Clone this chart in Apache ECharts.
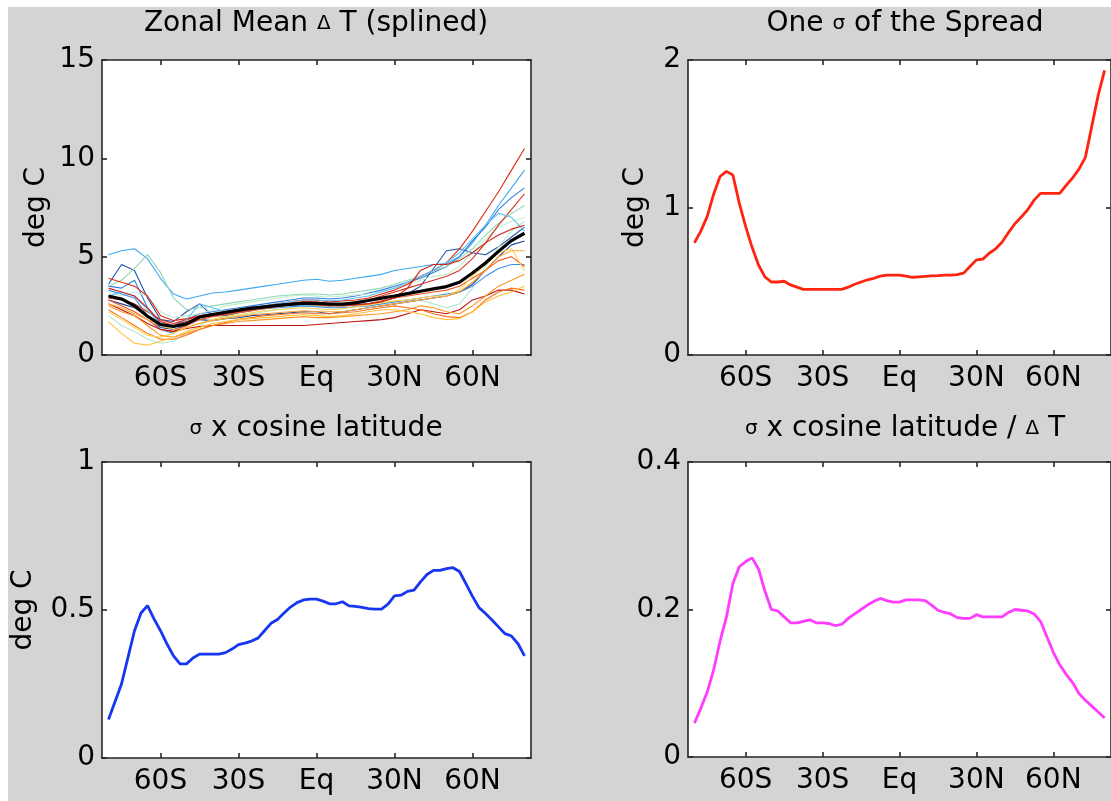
<!DOCTYPE html>
<html>
<head>
<meta charset="utf-8">
<script src="https://cdn.jsdelivr.net/npm/echarts@6/dist/echarts.min.js"></script>
<style>html,body{margin:0;padding:0;background:#fff}#c{width:1111px;height:801px}</style>
</head>
<body>
<div id="c"></div>
<script>
// ---------- DATA ----------
const xTickVals = [-60, -30, 0, 30, 60];
const xTickLabels = ['60S', '30S', 'Eq', '30N', '60N'];

// latitudes for the spaghetti panel (5 deg)
const lat5 = [-80,-75,-70,-65,-60,-55,-50,-45,-40,-35,-30,-25,-20,-15,-10,-5,0,5,10,15,20,25,30,35,40,45,50,55,60,65,70,75,80];
// latitudes for the single-curve panels (2.5 deg)
const lat25 = [-80,-77.5,-75,-72.5,-70,-67.5,-65,-62.5,-60,-57.5,-55,-52.5,-50,-47.5,-45,-42.5,-40,-37.5,-35,-32.5,-30,-27.5,-25,-22.5,-20,-17.5,-15,-12.5,-10,-7.5,-5,-2.5,0,2.5,5,7.5,10,12.5,15,17.5,20,22.5,25,27.5,30,32.5,35,37.5,40,42.5,45,47.5,50,52.5,55,57.5,60,62.5,65,67.5,70,72.5,75,77.5,80];

// Panel 1: individual model zonal mean dT (deg C)
const m01 = [5.1,5.3,5.4,4.9,3.9,3.1,2.85,3.0,3.15,3.2,3.3,3.4,3.5,3.6,3.7,3.8,3.85,3.75,3.8,3.9,4.0,4.1,4.3,4.4,4.5,4.6,4.65,5.0,5.7,6.6,7.6,8.5,9.4];
const m02 = [3.6,4.6,4.3,2.9,1.8,1.7,2.2,2.6,2.0,2.0,2.15,2.25,2.4,2.5,2.55,2.55,2.5,2.45,2.5,2.55,2.6,2.75,2.9,3.1,3.5,4.4,5.3,5.4,5.2,5.1,5.5,6.0,6.5];
const m03 = [3.5,3.4,3.8,2.4,1.6,1.5,1.8,2.1,2.2,2.3,2.4,2.5,2.6,2.7,2.8,2.9,2.9,2.85,2.9,3.0,3.15,3.3,3.5,3.7,3.9,4.2,4.5,5.0,5.8,6.5,7.4,8.0,8.5];
const m04 = [3.5,3.8,4.4,5.1,4.2,2.9,2.3,2.4,2.5,2.6,2.7,2.8,2.9,3.0,3.05,3.1,3.1,3.05,3.1,3.2,3.3,3.4,3.6,3.8,4.0,4.3,4.5,4.9,5.4,6.1,6.7,7.2,7.6];
const m05 = [3.2,3.0,3.2,3.0,2.2,1.9,2.0,2.1,2.3,2.5,2.6,2.7,2.8,2.9,3.0,3.05,3.0,2.95,3.0,3.05,3.1,3.2,3.4,3.6,3.8,4.0,4.1,4.5,5.2,5.9,6.5,6.8,7.0];
const m06 = [2.0,1.5,1.2,0.8,0.6,0.7,1.1,1.5,1.8,1.9,2.0,2.1,2.2,2.3,2.4,2.5,2.5,2.45,2.5,2.5,2.55,2.6,2.7,2.8,2.8,2.6,2.4,2.6,3.4,4.5,5.5,6.3,6.8];
const m07 = [3.3,3.1,2.9,2.0,1.3,1.1,1.6,1.9,2.0,2.1,2.2,2.3,2.35,2.4,2.45,2.5,2.45,2.4,2.4,2.45,2.5,2.6,2.7,2.8,2.9,3.0,3.1,3.2,3.5,4.0,4.4,4.6,4.6];
const m08 = [2.8,2.6,2.4,2.0,1.4,1.3,1.5,1.8,1.75,1.85,1.9,2.0,2.05,2.1,2.15,2.2,2.2,2.1,2.2,2.3,2.4,2.5,2.6,2.7,2.8,2.9,3.0,3.2,3.6,4.3,5.0,5.6,5.8];
const m09 = [3.9,3.7,3.5,3.0,2.0,1.75,1.85,2.0,2.1,2.2,2.3,2.4,2.5,2.6,2.7,2.8,2.8,2.7,2.75,2.8,2.9,3.1,3.3,3.6,4.0,4.3,4.7,5.4,6.3,7.3,8.3,9.4,10.5];
const m10 = [2.9,2.8,2.6,2.2,1.8,1.6,1.8,1.95,2.05,2.15,2.25,2.35,2.45,2.55,2.65,2.7,2.65,2.6,2.6,2.7,2.8,3.0,3.2,3.4,3.6,3.8,4.0,4.3,4.9,5.7,6.6,7.4,8.2];
const m11 = [2.8,2.5,2.2,1.8,1.3,1.2,1.5,1.8,1.95,2.05,2.15,2.25,2.35,2.45,2.55,2.6,2.55,2.5,2.5,2.55,2.6,2.75,2.9,3.0,3.1,3.2,3.3,3.5,3.9,4.3,4.8,5.0,4.5];
const m12 = [2.6,2.3,2.0,1.6,1.3,1.2,1.35,1.45,1.5,1.5,1.5,1.5,1.5,1.5,1.5,1.5,1.55,1.6,1.65,1.7,1.75,1.8,1.9,2.1,2.3,2.2,2.1,2.3,2.8,3.0,3.3,3.3,3.1];
const m13 = [2.5,2.2,2.0,1.5,1.0,0.9,1.1,1.3,1.5,1.6,1.7,1.75,1.8,1.85,1.9,1.95,1.9,1.9,1.95,2.0,2.05,2.1,2.2,2.3,2.5,2.4,2.2,2.1,2.5,3.0,3.5,3.8,4.1];
const m14 = [2.3,1.9,1.5,1.1,0.8,0.8,1.0,1.3,1.5,1.65,1.8,1.9,2.0,2.05,2.1,2.15,2.1,2.1,2.15,2.2,2.3,2.4,2.5,2.4,2.3,2.1,1.95,1.9,2.2,2.8,3.2,3.4,3.3];
const m15 = [1.7,1.1,0.6,0.5,0.7,0.9,1.2,1.4,1.6,1.7,1.8,1.85,1.9,1.95,2.0,2.05,2.0,1.95,2.0,2.1,2.2,2.3,2.3,2.2,2.1,1.9,1.8,1.85,2.2,2.7,3.0,3.2,3.5];
const m16 = [2.2,1.8,1.4,1.0,0.9,1.1,1.4,1.6,1.8,1.95,2.05,2.15,2.25,2.3,2.35,2.4,2.35,2.3,2.35,2.45,2.55,2.65,2.75,2.8,2.9,3.0,3.0,3.3,4.0,4.6,5.2,5.4,4.3];
const m17 = [2.6,2.4,2.1,1.8,1.5,1.3,1.4,1.6,1.75,1.85,1.95,2.05,2.1,2.15,2.2,2.25,2.2,2.2,2.2,2.3,2.4,2.5,2.6,2.7,2.8,2.9,3.0,3.2,3.7,4.3,5.0,5.3,5.3];
const m18 = [3.0,3.2,3.0,2.3,1.5,1.4,1.8,2.6,2.4,2.2,2.3,2.4,2.5,2.6,2.7,2.8,2.8,2.75,2.8,2.9,3.0,3.2,3.4,3.7,4.0,4.3,4.7,5.2,5.9,6.6,7.2,7.0,6.3];
const m19 = [3.4,3.2,3.0,2.4,1.7,1.5,1.7,1.9,2.0,2.1,2.2,2.3,2.45,2.55,2.6,2.7,2.7,2.6,2.55,2.55,2.6,2.7,2.9,3.4,4.3,4.6,4.6,4.8,5.2,5.7,6.1,6.4,6.6];
const ensMean = [3.0,2.85,2.5,1.97,1.55,1.45,1.58,1.93,2.06,2.17,2.28,2.38,2.45,2.52,2.57,2.63,2.62,2.59,2.59,2.65,2.77,2.89,3.0,3.12,3.24,3.36,3.48,3.7,4.17,4.68,5.27,5.82,6.19];

// Panel 2: one sigma of the spread
const sigma = [0.76,0.84,0.94,1.09,1.21,1.245,1.22,1.03,0.87,0.73,0.61,0.53,0.495,0.495,0.50,0.475,0.46,0.445,0.445,0.445,0.445,0.445,0.445,0.445,0.46,0.48,0.495,0.51,0.52,0.535,0.542,0.542,0.542,0.535,0.527,0.53,0.533,0.536,0.538,0.542,0.542,0.545,0.555,0.60,0.645,0.65,0.69,0.72,0.765,0.83,0.89,0.935,0.985,1.05,1.096,1.096,1.096,1.096,1.15,1.20,1.26,1.34,1.55,1.76,1.93];
// Panel 3: sigma x cosine latitude
const sigmaCos = [0.13,0.19,0.25,0.34,0.43,0.49,0.515,0.47,0.43,0.385,0.345,0.318,0.318,0.338,0.351,0.351,0.351,0.351,0.356,0.368,0.383,0.388,0.395,0.405,0.43,0.455,0.468,0.49,0.51,0.525,0.534,0.537,0.537,0.53,0.521,0.521,0.528,0.514,0.512,0.509,0.505,0.503,0.503,0.52,0.548,0.55,0.563,0.567,0.595,0.62,0.634,0.634,0.64,0.643,0.63,0.588,0.546,0.508,0.488,0.466,0.443,0.42,0.412,0.386,0.345];
// Panel 4: sigma x cosine latitude / dT
const sigmaCosRel = [0.046,0.066,0.088,0.118,0.157,0.19,0.235,0.258,0.265,0.27,0.255,0.225,0.20,0.198,0.19,0.182,0.182,0.184,0.186,0.182,0.182,0.181,0.178,0.18,0.188,0.194,0.2,0.206,0.211,0.215,0.212,0.21,0.21,0.213,0.213,0.213,0.212,0.206,0.199,0.196,0.194,0.189,0.188,0.188,0.193,0.19,0.19,0.19,0.19,0.196,0.2,0.199,0.198,0.194,0.184,0.163,0.142,0.125,0.112,0.101,0.086,0.077,0.069,0.061,0.053];

const models = [m01,m02,m03,m04,m05,m06,m07,m08,m09,m10,m11,m12,m13,m14,m15,m16,m17,m18,m19];
const modelColors = ['#3fa9f2','#2152ae','#2f7fdc','#8fd9b4','#c0ecd2','#b4e6ca','#3b90e6','#1c44a2','#e02a12','#d6321a','#f2561e','#bb1410','#ff9422','#f8741e','#ffc23a','#ffd24c','#ffa632','#62c2f6','#cf2418'];

// ---------- STYLE / LAYOUT ----------
const FONT = '"DejaVu Sans", "Liberation Sans", Arial, sans-serif';
const FS = 28;
const AX = '#262626';
const grids = [
  {left: 102, top: 60, width: 429, height: 295},
  {left: 688, top: 60, width: 429, height: 295},
  {left: 102, top: 462, width: 429, height: 296},
  {left: 688, top: 462, width: 429, height: 295}
];
const yCfg = [
  {min: 0, max: 15, interval: 5, name: 'deg C', gap: 51},
  {min: 0, max: 2, interval: 1, name: 'deg C', gap: 38},
  {min: 0, max: 1, interval: 0.5, name: 'deg C', gap: 64},
  {min: 0, max: 0.4, interval: 0.2, name: '', gap: 0}
];
const lineSty = {color: AX, width: 1.6};
const xAxes = [], yAxes = [];
grids.forEach((g, i) => {
  xAxes.push({
    type: 'value', gridIndex: i, min: -82.5, max: 82.5, position: 'bottom',
    axisLine: {show: true, onZero: false, lineStyle: lineSty},
    axisTick: {show: true, inside: true, length: 5, customValues: xTickVals, lineStyle: lineSty},
    axisLabel: {customValues: xTickVals, margin: 10, color: '#000', fontSize: FS, fontFamily: FONT,
      formatter: v => xTickLabels[xTickVals.indexOf(v)]},
    splitLine: {show: false}
  });
  xAxes.push({
    type: 'value', gridIndex: i, min: -82.5, max: 82.5, position: 'top',
    axisLine: {show: true, onZero: false, lineStyle: lineSty},
    axisTick: {show: true, inside: true, length: 5, customValues: xTickVals, lineStyle: lineSty},
    axisLabel: {show: false}, splitLine: {show: false}
  });
  const c = yCfg[i];
  yAxes.push({
    type: 'value', gridIndex: i, min: c.min, max: c.max, interval: c.interval, position: 'left',
    axisLine: {show: true, onZero: false, lineStyle: lineSty},
    axisTick: {show: true, inside: true, length: 5, lineStyle: lineSty},
    axisLabel: {margin: 7, color: '#000', fontSize: FS, fontFamily: FONT},
    splitLine: {show: false},
    name: c.name, nameLocation: 'middle', nameGap: c.gap, nameRotate: 90,
    nameTextStyle: {color: '#000', fontSize: FS, fontFamily: FONT}
  });
  yAxes.push({
    type: 'value', gridIndex: i, min: c.min, max: c.max, interval: c.interval, position: 'right',
    axisLine: {show: true, onZero: false, lineStyle: lineSty},
    axisTick: {show: true, inside: true, length: 5, lineStyle: lineSty},
    axisLabel: {show: false}, splitLine: {show: false}
  });
});

const pairs = (xs, ys) => xs.map((x, k) => [x, ys[k]]);
const series = [];
models.forEach((m, k) => {
  series.push({type: 'line', xAxisIndex: 0, yAxisIndex: 0, data: pairs(lat5, m), symbol: 'none',
    lineStyle: {color: modelColors[k], width: 1.1}, z: 2, silent: true});
});
series.push({type: 'line', xAxisIndex: 0, yAxisIndex: 0, data: pairs(lat5, ensMean), symbol: 'none',
  lineStyle: {color: '#000', width: 3.2}, z: 5});
series.push({type: 'line', xAxisIndex: 2, yAxisIndex: 2, data: pairs(lat25, sigma), symbol: 'none',
  lineStyle: {color: '#ff2410', width: 2.8}});
series.push({type: 'line', xAxisIndex: 4, yAxisIndex: 4, data: pairs(lat25, sigmaCos), symbol: 'none',
  lineStyle: {color: '#1636f2', width: 2.8}});
series.push({type: 'line', xAxisIndex: 6, yAxisIndex: 6, data: pairs(lat25, sigmaCosRel), symbol: 'none',
  lineStyle: {color: '#ff3cff', width: 2.8}});

const titleStyle = {color: '#000', fontSize: FS, fontFamily: FONT, fontWeight: 'normal',
  rich: {s: {fontSize: 20, fontFamily: FONT, color: '#000'}}};
const titles = [
  {text: 'Zonal Mean {s|Δ} T (splined)', left: 316, top: 10},
  {text: 'One {s|σ} of the Spread', left: 905, top: 10},
  {text: '{s|σ} x cosine latitude', left: 316, top: 415},
  {text: '{s|σ} x cosine latitude / {s|Δ} T', left: 905, top: 415}
].map(t => Object.assign({textAlign: 'center', padding: 0, textStyle: titleStyle}, t));

const chart = echarts.init(document.getElementById('c'), null, {renderer: 'canvas'});
chart.setOption({
  backgroundColor: '#d4d4d4',
  animation: false,
  title: titles,
  grid: grids.map(g => Object.assign({show: true, backgroundColor: '#ffffff', borderWidth: 0, containLabel: false}, g)),
  xAxis: xAxes,
  yAxis: yAxes,
  series: series,
  graphic: [
    {type: 'rect', shape: {x: 0, y: 0, width: 1111, height: 7}, style: {fill: '#ffffff'}, z: 100, silent: true},
    {type: 'rect', shape: {x: 0, y: 0, width: 8, height: 801}, style: {fill: '#ffffff'}, z: 100, silent: true}
  ]
});
</script>
</body>
</html>
